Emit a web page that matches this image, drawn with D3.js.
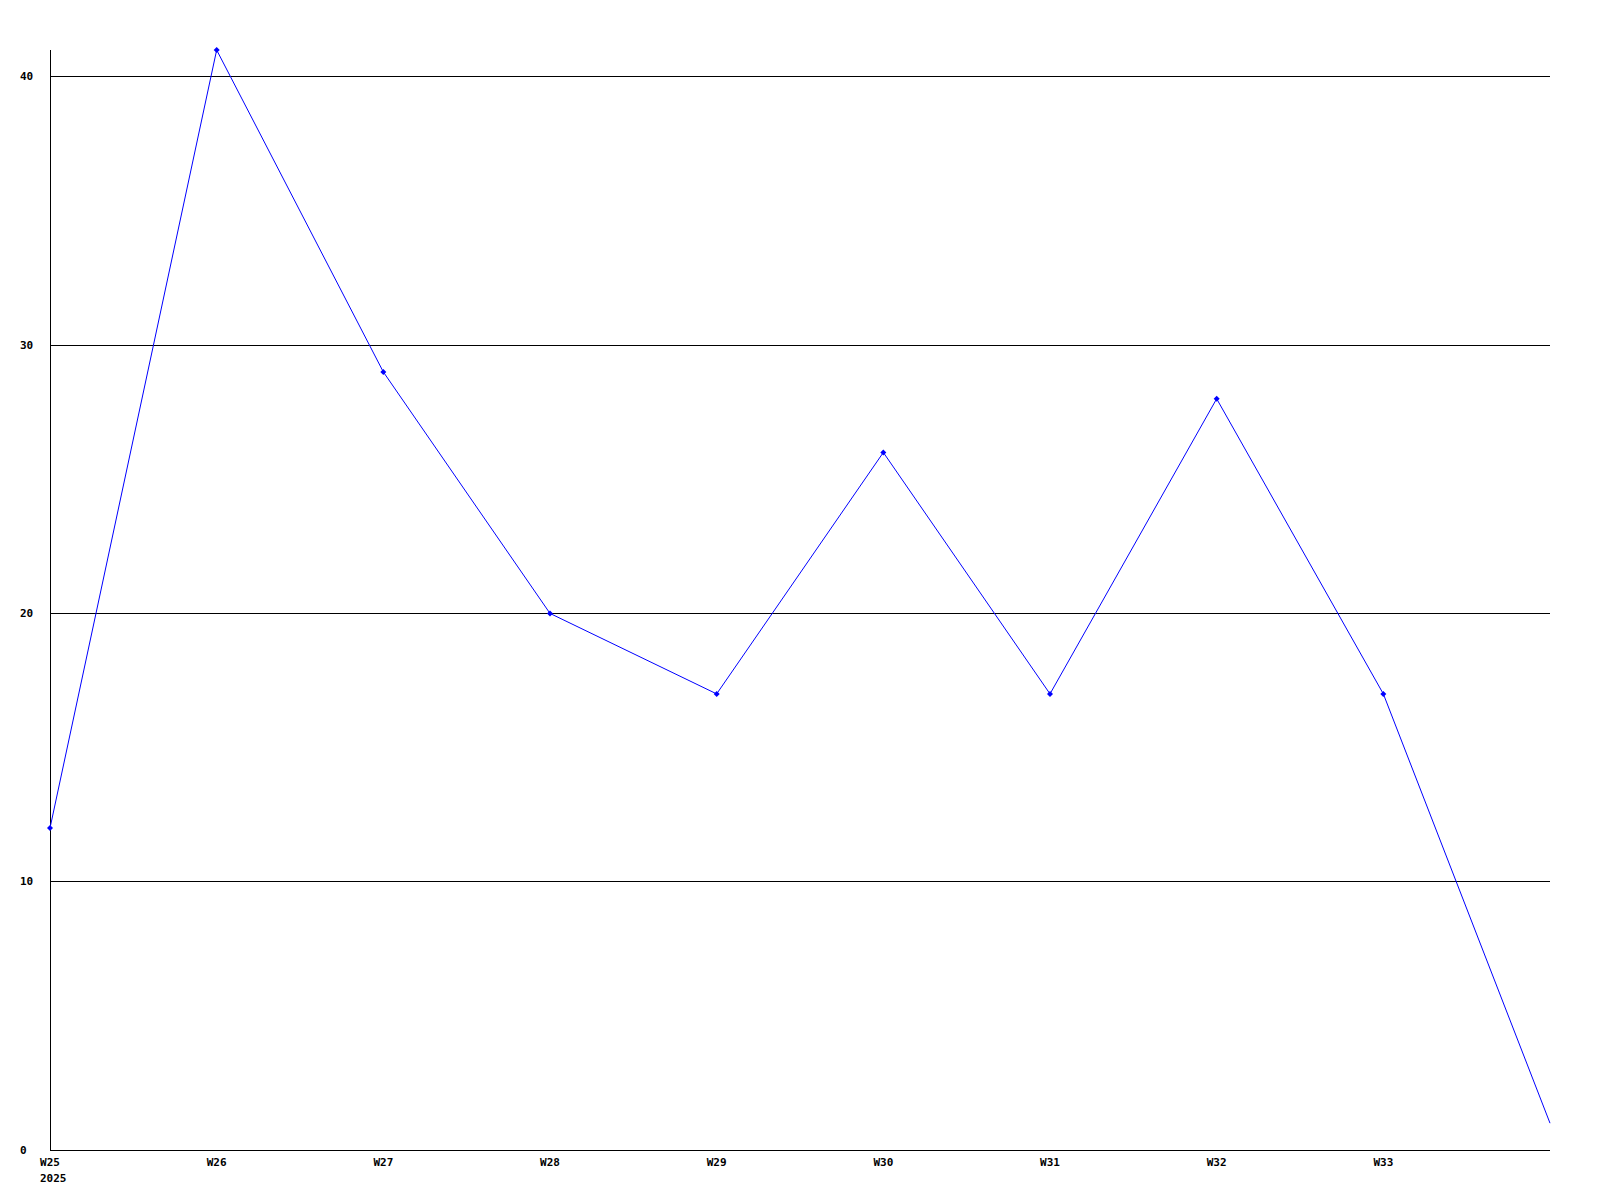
<!DOCTYPE html>
<html><head><meta charset="utf-8">
<script src="https://cdn.jsdelivr.net/npm/d3@7"></script>
<style>
html,body{margin:0;padding:0;background:#fff;}
text{font-family:"DejaVu Sans Mono","Liberation Mono",monospace;font-weight:bold;font-size:11px;fill:#000;}
</style></head>
<body>
<svg id="chart" width="1600" height="1200"></svg>
<script>
const weeks = ["W25","W26","W27","W28","W29","W30","W31","W32","W33","W34"];
const tickLabels = ["W25","W26","W27","W28","W29","W30","W31","W32","W33"];
const yearLabel = "2025";
const values = [12, 41, 29, 20, 17, 26, 17, 28, 17, 1];
const yTicks = [0, 10, 20, 30, 40];

(function(){
const svg = d3.select("#chart");
const mLeft = 50, mRight = 1550, mTop = 50, mBottom = 1150;

const x = d3.scalePoint().domain(weeks).range([mLeft, mRight]);
const y = d3.scaleLinear().domain([0, 41]).range([mBottom, mTop]);

// grid lines
svg.append("g").selectAll("line").data(yTicks.filter(d => d > 0)).join("line")
  .attr("x1", mLeft).attr("x2", mRight)
  .attr("y1", d => Math.floor(y(d)) + 0.5).attr("y2", d => Math.floor(y(d)) + 0.5)
  .attr("stroke", "#000").attr("stroke-width", 1).attr("shape-rendering", "crispEdges");

// axes lines
svg.append("line").attr("x1", mLeft + 0.5).attr("x2", mLeft + 0.5).attr("y1", mTop).attr("y2", mBottom)
  .attr("stroke", "#000").attr("shape-rendering", "crispEdges");
svg.append("line").attr("x1", mLeft).attr("x2", mRight).attr("y1", mBottom + 0.5).attr("y2", mBottom + 0.5)
  .attr("stroke", "#000").attr("shape-rendering", "crispEdges");

// y labels
svg.append("g").selectAll("text").data(yTicks).join("text")
  .attr("x", 20).attr("y", d => Math.floor(y(d)))
  .attr("dy", "0.35em")
  .text(d => d);

// x labels
svg.append("g").selectAll("text").data(tickLabels).join("text")
  .attr("x", d => x(d)).attr("y", mBottom + 12)
  .attr("text-anchor", "middle").attr("dy", "0.35em")
  .text(d => d);
svg.append("text").attr("x", x(weeks[0]) - 10).attr("y", mBottom + 28)
  .attr("dy", "0.35em").text(yearLabel);

// line
const line = d3.line().x((d, i) => x(weeks[i])).y(d => y(d));
svg.append("path").datum(values).attr("d", line)
  .attr("fill", "none").attr("stroke", "#0000ff").attr("stroke-width", 1);

// markers (small diamonds), skip last
svg.append("g").selectAll("path").data(values.slice(0, -1)).join("path")
  .attr("transform", (d, i) => `translate(${x(weeks[i])},${y(d)})`)
  .attr("d", "M0,-3L3,0L0,3L-3,0Z")
  .attr("fill", "#0000ff");
})();
</script>
</body></html>
